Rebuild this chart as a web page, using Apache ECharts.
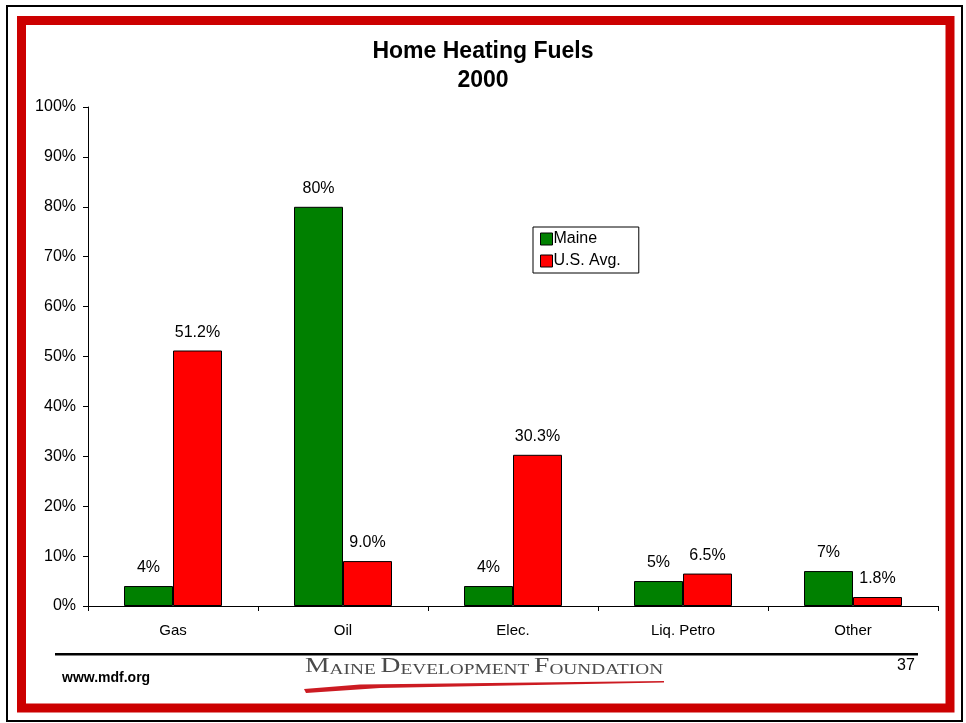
<!DOCTYPE html>
<html>
<head>
<meta charset="utf-8">
<script src="https://cdn.jsdelivr.net/npm/echarts@6/dist/echarts.min.js"></script>
<style>
  html, body { margin: 0; padding: 0; background: #fff; }
  #chartDiv { width: 966px; height: 723px; }
</style>
</head>
<body>
<div id="chartDiv"></div>
<script>
// data
var categories = ['Gas', 'Oil', 'Elec.', 'Liq. Petro', 'Other'];
var maineValues = [4, 80, 4, 5, 7];
var usValues = [51.2, 9.0, 30.3, 6.5, 1.8];
var yTicks = [0, 10, 20, 30, 40, 50, 60, 70, 80, 90, 100];

var dom = document.getElementById("chartDiv");
var myChart = echarts.init(dom);

var font = 'Arial, "Liberation Sans", sans-serif';
var serif = '"Liberation Serif", "DejaVu Serif", serif';

var option = {
    backgroundColor: '#fff',
    animation: false,
    title: {
        text: 'Home Heating Fuels\n2000',
        left: 'center',
        top: 32,
        textStyle: {
            fontFamily: font,
            fontSize: 23,
            fontWeight: 'bold',
            color: '#000',
            lineHeight: 29
        }
    },
    legend: {
        orient: 'vertical',
        left: 533,
        top: 227,
        padding: [4, 18, 4, 7],
        itemGap: 6,
        itemWidth: 12,
        itemHeight: 12,
        borderColor: '#000',
        borderWidth: 1,
        backgroundColor: '#fff',
        icon: 'rect',
        itemStyle: { borderColor: '#000', borderWidth: 1 },
        textStyle: { fontFamily: font, fontSize: 16, color: '#000', padding: [0, 0, 0, -4] },
        data: ['Maine', 'U.S. Avg.']
    },
    grid: {
        left: 88,
        right: 28,
        top: 107,
        bottom: 117,
        containLabel: false
    },
    xAxis: {
        type: 'category',
        data: categories,
        axisLine: { lineStyle: { color: '#000', width: 1 } },
        axisTick: { show: true, alignWithLabel: false, length: 5, lineStyle: { color: '#000' } },
        axisLabel: { fontFamily: font, fontSize: 15, color: '#000', margin: 17 }
    },
    yAxis: {
        type: 'value',
        min: yTicks[0],
        max: yTicks[yTicks.length - 1],
        interval: 10,
        axisLine: { show: true, lineStyle: { color: '#000', width: 1 } },
        axisTick: { show: true, length: 5, lineStyle: { color: '#000' } },
        splitLine: { show: false },
        axisLabel: { fontFamily: font, fontSize: 16, color: '#000', margin: 12, formatter: '{value}%' }
    },
    series: [
        {
            name: 'Maine',
            type: 'bar',
            barWidth: 49,
            barGap: '0%',
            data: maineValues,
            itemStyle: { color: '#008000', borderColor: '#000', borderWidth: 1 },
            label: {
                show: true,
                position: 'top',
                distance: 10,
                fontFamily: font,
                fontSize: 16,
                color: '#000',
                formatter: function (p) { return p.value.toFixed(0) + '%'; }
            }
        },
        {
            name: 'U.S. Avg.',
            type: 'bar',
            barWidth: 49,
            data: usValues,
            itemStyle: { color: '#ff0000', borderColor: '#000', borderWidth: 1 },
            label: {
                show: true,
                position: 'top',
                distance: 10,
                fontFamily: font,
                fontSize: 16,
                color: '#000',
                formatter: function (p) { return p.value.toFixed(1) + '%'; }
            }
        }
    ],
    graphic: [
        // outer black frame
        { type: 'rect', shape: { x: 7, y: 6, width: 955, height: 715 },
          style: { fill: null, stroke: '#000', lineWidth: 2 }, z: 100 },
        // red frame
        { type: 'rect', shape: { x: 21.5, y: 20.5, width: 928.5, height: 687.5 },
          style: { fill: null, stroke: '#cc0000', lineWidth: 9 }, z: 100 },
        // footer rule
        { type: 'rect', shape: { x: 55, y: 653, width: 863, height: 2.5 },
          style: { fill: '#000' }, z: 100 },
        { type: 'text', left: 62, top: 671,
          style: { text: 'www.mdf.org', font: 'bold 14px ' + font, fill: '#000' }, z: 100 },
        { type: 'text', left: 897, top: 658,
          style: { text: '37', font: '16px ' + font, fill: '#000' }, z: 100 },
        // logo
        { type: 'text', x: 305, y: 657, scaleX: 1.38,
          style: {
              text: '{b|M}{s|AINE }{b|D}{s|EVELOPMENT }{b|F}{s|OUNDATION}',
              fill: '#4a4a4a',
              rich: {
                  b: { fontFamily: serif, fontSize: 20, fill: '#4a4a4a', verticalAlign: 'bottom' },
                  s: { fontFamily: serif, fontSize: 14, fill: '#4a4a4a', verticalAlign: 'bottom' }
              }
          }, z: 100 },
        { type: 'polygon',
          shape: { points: [[304, 689], [360, 684.5], [664, 681], [664, 682.5], [380, 688], [306, 693]] },
          style: { fill: '#cc1b22' }, z: 100 }
    ]
};

myChart.setOption(option);
</script>
</body>
</html>
